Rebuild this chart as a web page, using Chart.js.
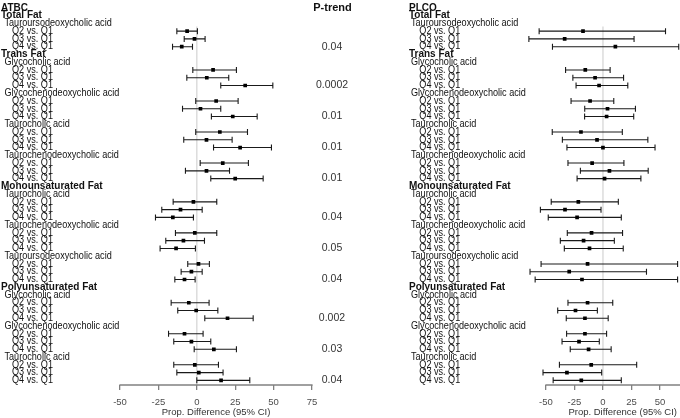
<!DOCTYPE html>
<html><head><meta charset="utf-8">
<script src="https://cdn.jsdelivr.net/npm/chart.js@4/dist/chart.umd.min.js"></script>
<style>
html,body{margin:0;padding:0;width:680px;height:418px;overflow:hidden;background:#fff;}
#cl{position:absolute;left:0;top:0;}
#cr{position:absolute;left:360px;top:0;}
</style></head><body>
<canvas id="cl" width="360" height="418"></canvas>
<canvas id="cr" width="368" height="418"></canvas>
<script>
const FONT = "'Liberation Sans', Arial, Helvetica, sans-serif";

const rowLabels = [
  "", "Total Fat", "Tauroursodeoxycholic acid", "Q2 vs. Q1", "Q3 vs. Q1", "Q4 vs. Q1",
  "Trans Fat", "Glycocholic acid", "Q2 vs. Q1", "Q3 vs. Q1", "Q4 vs. Q1",
  "Glycochenodeoxycholic acid", "Q2 vs. Q1", "Q3 vs. Q1", "Q4 vs. Q1",
  "Taurocholic acid", "Q2 vs. Q1", "Q3 vs. Q1", "Q4 vs. Q1",
  "Taurochenodeoxycholic acid", "Q2 vs. Q1", "Q3 vs. Q1", "Q4 vs. Q1",
  "Monounsaturated Fat", "Taurocholic acid", "Q2 vs. Q1", "Q3 vs. Q1", "Q4 vs. Q1",
  "Taurochenodeoxycholic acid", "Q2 vs. Q1", "Q3 vs. Q1", "Q4 vs. Q1",
  "Tauroursodeoxycholic acid", "Q2 vs. Q1", "Q3 vs. Q1", "Q4 vs. Q1",
  "Polyunsaturated Fat", "Glycocholic acid", "Q2 vs. Q1", "Q3 vs. Q1", "Q4 vs. Q1",
  "Glycochenodeoxycholic acid", "Q2 vs. Q1", "Q3 vs. Q1", "Q4 vs. Q1",
  "Taurocholic acid", "Q2 vs. Q1", "Q3 vs. Q1", "Q4 vs. Q1"
];
const rowKinds = [
  "panel", "group", "acid", "cmp", "cmp", "cmp",
  "group", "acid", "cmp", "cmp", "cmp",
  "acid", "cmp", "cmp", "cmp",
  "acid", "cmp", "cmp", "cmp",
  "acid", "cmp", "cmp", "cmp",
  "group", "acid", "cmp", "cmp", "cmp",
  "acid", "cmp", "cmp", "cmp",
  "acid", "cmp", "cmp", "cmp",
  "group", "acid", "cmp", "cmp", "cmp",
  "acid", "cmp", "cmp", "cmp",
  "acid", "cmp", "cmp", "cmp"
];
const panelTitles = ["ATBC", "PLCO"];
const _ = null;

const atbcEst = [_,_,_, -6.3, -1.5, -9.8, _,_, 10.6, 6.5, 31.5, _, 12.6, 2.4, 23.4, _, 15.0, 6.3, 28.2, _, 16.9, 6.3, 25.0,
  _,_, -2.2, -10.6, -15.6, _, -1.3, -8.7, -13.5, _, 1.1, -3.5, -8.0,
  _,_, -5.2, -0.4, 20.0, _, -8.0, -3.5, 11.1, _, -1.3, 1.3, 15.8];
const atbcLo = [_,_,_, -13.0, -8.2, -15.8, _,_, -2.6, -6.5, 15.6, _, -0.7, -9.3, 9.5, _, -0.7, -8.5, 10.9, _, 2.2, -7.4, 9.1,
  _,_, -15.4, -22.8, -26.9, _, -13.9, -20.2, -23.9, _, -5.9, -10.2, -14.3,
  _,_, -16.7, -12.4, 5.2, _, -18.4, -15.0, -1.7, _, -15.0, -13.0, 0.0];
const atbcHi = [_,_,_, 0.4, 5.4, -2.8, _,_, 25.8, 20.8, 49.5, _, 26.9, 15.6, 39.3, _, 33.0, 23.0, 48.6, _, 33.6, 21.3, 43.2,
  _,_, 13.0, 3.5, -2.2, _, 13.0, 5.0, -0.9, _, 8.2, 3.5, -1.1,
  _,_, 8.0, 13.7, 36.7, _, 4.1, 9.1, 25.8, _, 14.1, 17.1, 34.5];
const atbcPtrend = ["","","","","","0.04","","","","","0.0002","","","","0.01","","","","0.01","","","","0.01",
  "","","","","0.04","","","","0.05","","","","0.04",
  "","","","","0.002","","","","0.03","","","","0.04"];

const plcoEst = [_,_,_, -17.5, -33.6, 10.9, _,_, -15.5, -6.9, -3.4, _, -11.3, 4.0, 3.2, _, -19.3, -5.2, 0.0, _, -9.5, 5.7, 1.4,
  _,_, -21.6, -33.3, -22.7, _, -10.0, -17.0, -11.8, _, -13.5, -29.6, -18.4,
  _,_, -13.5, -24.1, -15.8, _, -15.8, -21.0, -12.6, _, -10.3, -31.6, -19.0];
const plcoLo = [_,_,_, -56.0, -65.0, -44.3, _,_, -32.8, -26.4, -23.6, _, -28.0, -16.0, -16.1, _, -44.5, -35.6, -31.6, _, -30.7, -19.8, -22.7,
  _,_, -45.4, -54.9, -48.0, _, -31.3, -37.4, -33.9, _, -54.3, -64.0, -59.5,
  _,_, -30.7, -39.7, -32.2, _, -31.9, -35.9, -28.7, _, -38.2, -52.6, -43.7];
const plcoHi = [_,_,_, 54.9, 27.3, 66.5, _,_, 6.3, 18.1, 21.8, _, 9.5, 28.5, 27.0, _, 17.0, 39.4, 45.7, _, 18.4, 39.7, 33.3,
  _,_, 13.5, -1.7, 16.1, _, 17.2, 10.0, 17.8, _, 65.5, 38.2, 65.5,
  _,_, 8.6, -4.9, 4.6, _, 3.2, -3.2, 7.2, _, 29.6, -1.1, 16.1];

const xTicks = [-50, -25, 0, 25, 50, 75];
const axisTitle = "Prop. Difference (95% CI)";
const ptrendTitle = "P-trend";

function forestPlugin(cfg) {
  return {
    id: 'forest' + cfg.id,
    beforeDatasetsDraw(chart) {
      const {ctx, chartArea, scales: {x, y}} = chart;
      ctx.save();
      const x0 = x.getPixelForValue(0);
      ctx.strokeStyle = '#dcdcdc'; ctx.lineWidth = 1.5;
      ctx.beginPath(); ctx.moveTo(x0, y.getPixelForValue(2.4)); ctx.lineTo(x0, chartArea.bottom); ctx.stroke();
      ctx.strokeStyle = '#1a1a1a'; ctx.lineWidth = 1.1;
      chart.data.datasets[0].data.forEach(d => {
        const yy = y.getPixelForValue(d.y), a = x.getPixelForValue(d.lo), b = x.getPixelForValue(d.hi);
        ctx.beginPath();
        ctx.moveTo(a, yy); ctx.lineTo(b, yy);
        ctx.moveTo(a, yy - 3); ctx.lineTo(a, yy + 3);
        ctx.moveTo(b, yy - 3); ctx.lineTo(b, yy + 3);
        ctx.stroke();
      });
      ctx.restore();
    },
    afterDraw(chart) {
      const {ctx, chartArea, scales: {x, y}} = chart;
      ctx.save();
      ctx.strokeStyle = '#808080'; ctx.lineWidth = 1.3;
      ctx.beginPath();
      ctx.moveTo(x.getPixelForValue(xTicks[0]) - 0.6, chartArea.bottom);
      ctx.lineTo(x.getPixelForValue(xTicks[xTicks.length - 1]) + 0.6, chartArea.bottom);
      ctx.stroke();
      ctx.textBaseline = 'middle';
      ctx.textAlign = 'left';
      ctx.fillStyle = '#111';
      rowLabels.forEach((lab, i) => {
        const kind = rowKinds[i];
        const text = kind === 'panel' ? cfg.title : lab;
        const bold = kind === 'panel' || kind === 'group';
        ctx.save();
        ctx.translate(cfg.labelX[kind], y.getPixelForValue(i));
        if (bold) {
          ctx.font = 'bold 10px ' + FONT;
        } else {
          ctx.font = '10px ' + FONT;
          ctx.scale(0.91, 1);
        }
        ctx.fillText(text, 0, 0);
        ctx.restore();
      });
      if (cfg.ptrend) {
        ctx.textAlign = 'center';
        ctx.font = 'bold 11px ' + FONT;
        ctx.fillText(ptrendTitle, cfg.ptrendX + 0.5, y.getPixelForValue(0));
        ctx.font = '10.5px ' + FONT;
        ctx.fillStyle = '#333';
        cfg.ptrend.forEach((p, i) => { if (p) ctx.fillText(p, cfg.ptrendX, y.getPixelForValue(i)); });
      }
      ctx.restore();
    }
  };
}

function makeChart(cfg) {
  const pts = rowLabels.map((_, i) => cfg.est[i] == null ? null : {x: cfg.est[i], y: i, lo: cfg.lo[i], hi: cfg.hi[i]}).filter(d => d);
  return new Chart(document.getElementById(cfg.id), {
    type: 'scatter',
    data: {datasets: [{data: pts, pointStyle: 'rect', radius: 2.6, hoverRadius: 2.6,
      backgroundColor: '#000', borderColor: '#000', borderWidth: 0}]},
    options: {
      responsive: false, animation: false, events: [],
      layout: {padding: {left: cfg.padL, right: cfg.padR, top: 0, bottom: 0}},
      plugins: {legend: {display: false}, tooltip: {enabled: false}},
      scales: {
        x: {
          type: 'linear', min: cfg.xmin, max: cfg.xmax,
          afterBuildTicks: s => { s.ticks = xTicks.map(v => ({value: v})); },
          afterFit: s => { s.height = 33; },
          grid: {drawOnChartArea: false, drawTicks: true, tickLength: 5, color: '#808080', lineWidth: 1.3},
          border: {display: false},
          ticks: {font: {family: FONT, size: 9.5}, color: '#4d4d4d', padding: 7, maxRotation: 0, autoSkip: false},
          title: {display: true, text: axisTitle, font: {family: FONT, size: 9.5}, color: '#333', padding: {top: 0, bottom: 0}}
        },
        y: {type: 'linear', display: false, min: -0.68, max: 48.6, reverse: true}
      }
    },
    plugins: [forestPlugin(cfg)]
  });
}

makeChart({id: 'cl', title: panelTitles[0], est: atbcEst, lo: atbcLo, hi: atbcHi, ptrend: atbcPtrend,
  ptrendX: 332, xmin: -50, xmax: 75, padL: 120, padR: 48,
  labelX: {panel: 1, group: 1, acid: 4.5, cmp: 12}});
makeChart({id: 'cr', title: panelTitles[1], est: plcoEst, lo: plcoLo, hi: plcoHi, ptrend: null,
  xmin: -72.79, xmax: 107.45, padL: 160, padR: 0,
  labelX: {panel: 49, group: 49, acid: 51, cmp: 59.3}});
</script>
</body></html>
